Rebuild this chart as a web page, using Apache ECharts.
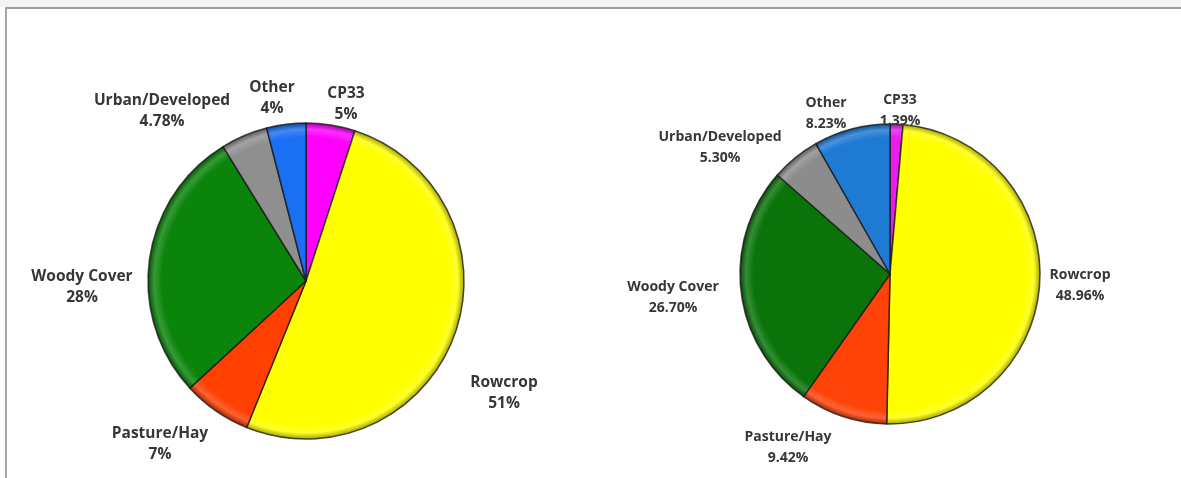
<!DOCTYPE html>
<html>
<head>
<meta charset="utf-8">
<script src="https://cdn.jsdelivr.net/npm/echarts@6/dist/echarts.min.js"></script>
<style>
  html, body { margin: 0; padding: 0; background: #ffffff; overflow: hidden; width: 1181px; height: 478px; }
  #wrap { position: absolute; left: 0; top: 0; width: 1181px; height: 478px; overflow: hidden; background: #ffffff; }
  #topband { position: absolute; left: 0; top: 0; width: 1181px; height: 7px; background: #f4f4f4; }
  #rule-top { position: absolute; left: 5px; top: 7px; width: 1176px; height: 2px; background: #9c9c9c; }
  #rule-left { position: absolute; left: 5px; top: 7px; width: 2px; height: 471px; background: #a6a6a6; }
  #chart { position: absolute; left: 0; top: 0; width: 1181px; height: 478px; }
  #edge { position: absolute; left: 1168px; top: 9px; width: 13px; height: 469px; background: #ffffff; z-index: 5; }
</style>
</head>
<body>
<div id="wrap">
  <div id="topband"></div>
  <div id="rule-top"></div>
  <div id="rule-left"></div>
  <div id="chart"></div>
  <div id="edge"></div>
</div>
<script>
// Land-cover categories, listed clockwise from 12 o'clock
const categories = ['CP33', 'Rowcrop', 'Pasture/Hay', 'Woody Cover', 'Urban/Developed', 'Other'];

// Percent shares for each pie
const leftValues  = [5, 51, 7, 28, 4.78, 4];
const rightValues = [1.39, 48.96, 9.42, 26.70, 5.30, 8.23];

// Slice fills
const leftColors  = ['#ff00ff', '#ffff00', '#ff4000', '#0a840a', '#8f8f8f', '#1b6ff2'];
const rightColors = ['#e81ee8', '#ffff00', '#ff4208', '#0a740a', '#8c8c8c', '#1f7ad4'];

// Pie geometry and label offsets (px from the pie centre)
const pies = [
  {
    cx: 306, cy: 281, r: 158, fontSize: 15.5,
    offsets: [[40, -177], [198, 112], [-146, 163], [-224, 6], [-144, -170], [-34, -183]],
    fmt: v => String(v)
  },
  {
    cx: 890, cy: 274, r: 150, fontSize: 14,
    offsets: [[10, -163], [190, 12], [-102, 174], [-217, 24], [-170, -126], [-64, -160]],
    fmt: v => v.toFixed(2)
  }
];

function mix(hex, target, t) {
  const n = parseInt(hex.slice(1), 16);
  const r = (n >> 16) & 255, g = (n >> 8) & 255, b = n & 255;
  const m = c => Math.round(c + (target - c) * t);
  return 'rgb(' + m(r) + ',' + m(g) + ',' + m(b) + ')';
}

// Bevelled fill: flat body, light rim, dark outer edge
function bevel(color, p) {
  return {
    type: 'radial', x: p.cx, y: p.cy, r: p.r, global: true,
    colorStops: [
      { offset: 0, color: color },
      { offset: 0.91, color: color },
      { offset: 0.96, color: mix(color, 255, 0.18) },
      { offset: 1, color: mix(color, 0, 0.35) }
    ]
  };
}

function buildSeries(values, colors, p) {
  return {
    type: 'pie',
    center: [p.cx, p.cy],
    radius: p.r,
    startAngle: 90,
    clockwise: true,
    avoidLabelOverlap: false,
    animation: false,
    silent: true,
    data: categories.map((name, i) => ({
      name: name,
      value: values[i],
      itemStyle: { color: bevel(colors[i], p) }
    })),
    itemStyle: { borderColor: 'rgba(20,20,20,0.75)', borderWidth: 1.5 },
    label: {
      show: true,
      position: 'outside',
      formatter: prm => prm.name + '\n' + p.fmt(prm.value) + '%',
      fontFamily: '"Open Sans", "Liberation Sans", sans-serif',
      fontWeight: 'bold',
      fontSize: p.fontSize,
      lineHeight: 21,
      color: '#363636'
    },
    labelLine: { show: false },
    labelLayout: prm => {
      const o = p.offsets[prm.dataIndex];
      return { x: p.cx + o[0], y: p.cy + o[1], align: 'center', verticalAlign: 'middle' };
    }
  };
}

const chart = echarts.init(document.getElementById('chart'), null, { renderer: 'canvas' });
chart.setOption({
  backgroundColor: 'transparent',
  series: [
    buildSeries(leftValues, leftColors, pies[0]),
    buildSeries(rightValues, rightColors, pies[1])
  ]
});
</script>
</body>
</html>
